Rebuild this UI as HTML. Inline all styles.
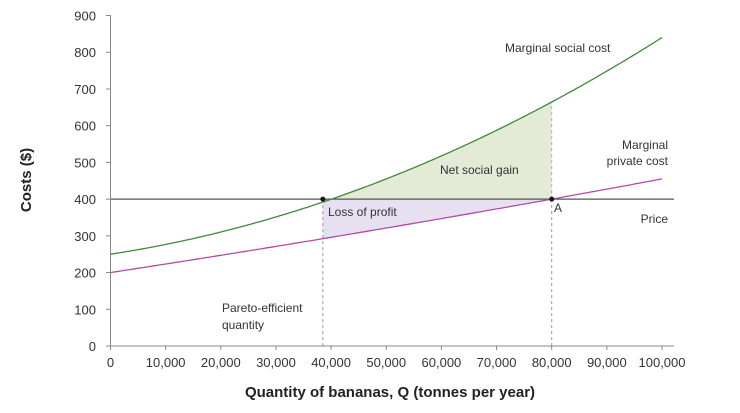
<!DOCTYPE html><html><head><style>body{margin:0;background:#fff}svg{display:block;font-family:"Liberation Sans",sans-serif}</style></head><body>
<svg id="s" width="740" height="413" viewBox="0 0 740 413"></svg>
<script>
const X=q=>110.5+5.515*q, Y=v=>346-0.3672*v;
const msc=q=>250+2.3*q+0.036*q*q, mpc=q=>200+2.3*q+0.0025*q*q;
let q0=38.5;
function pts(f,a,b){let s=[];for(let q=a;q<=b+1e-9;q+=0.5)s.push(X(q).toFixed(1)+","+Y(f(q)).toFixed(1));return s;}
let h='';
h+=`<polygon fill="#e3ebd6" points="${pts(msc,q0,80).join(' ')} ${X(80)},${Y(400)} ${X(q0)},${Y(400)}"/>`;
h+=`<polygon fill="#e7e0f0" points="${pts(mpc,q0,80).join(' ')} ${X(80)},${Y(400)} ${X(q0)},${Y(400)}"/>`;
h+=`<line x1="${X(q0)}" y1="${Y(400)}" x2="${X(q0)}" y2="346" stroke="#999" stroke-dasharray="3,3"/>`;
h+=`<line x1="${X(80)}" y1="${Y(400)}" x2="${X(80)}" y2="346" stroke="#999" stroke-dasharray="3,3"/>`;
h+=`<line x1="${X(80)}" y1="${Y(400)}" x2="${X(80)}" y2="${Y(msc(80))}" stroke="#aaa" stroke-dasharray="3,3"/>`;
h+=`<line x1="110.5" y1="${Y(400)}" x2="674" y2="${Y(400)}" stroke="#555" stroke-width="1.2"/>`;
h+=`<polyline fill="none" stroke="#3f8a3a" stroke-width="1.3" points="${pts(msc,0,100).join(' ')}"/>`;
h+=`<polyline fill="none" stroke="#b14ca6" stroke-width="1.3" points="${pts(mpc,0,100).join(' ')}"/>`;
h+=`<line x1="110.5" y1="15" x2="110.5" y2="346" stroke="#888"/><line x1="110.5" y1="346" x2="674" y2="346" stroke="#888"/>`;
for(let v=0;v<=900;v+=100){h+=`<line x1="106" x2="110.5" y1="${Y(v)}" y2="${Y(v)}" stroke="#888"/><text x="96" y="${Y(v)+5}" font-size="13" fill="#333" text-anchor="end">${v}</text>`;}
for(let q=0;q<=100;q+=10){let l=q==0?'0':(q+',000');h+=`<line x1="${X(q)}" x2="${X(q)}" y1="346" y2="350" stroke="#888"/><text x="${X(q)}" y="367" font-size="13" fill="#333" text-anchor="middle">${l}</text>`;}
h+=`<circle cx="${X(q0)}" cy="${Y(400)}" r="2.5" fill="#111"/><circle cx="${X(80)}" cy="${Y(400)}" r="2.5" fill="#111"/>`;
const t=(x,y,s,a='start')=>h+=`<text x="${x}" y="${y}" font-size="12" fill="#333" text-anchor="${a}">${s}</text>`;
t(505,52,'Marginal social cost');t(668,149,'Marginal','end');t(668,165,'private cost','end');t(668,223,'Price','end');
t(440,174,'Net social gain');t(328,216,'Loss of profit');t(554,212,'A');t(222,312,'Pareto-efficient');t(222,329,'quantity');
h+=`<text x="390" y="397" font-size="15" font-weight="bold" fill="#222" text-anchor="middle">Quantity of bananas, Q (tonnes per year)</text>`;
h+=`<text transform="translate(31,180) rotate(-90)" font-size="15" font-weight="bold" fill="#222" text-anchor="middle">Costs ($)</text>`;
document.getElementById('s').innerHTML=h;
</script></body></html>
